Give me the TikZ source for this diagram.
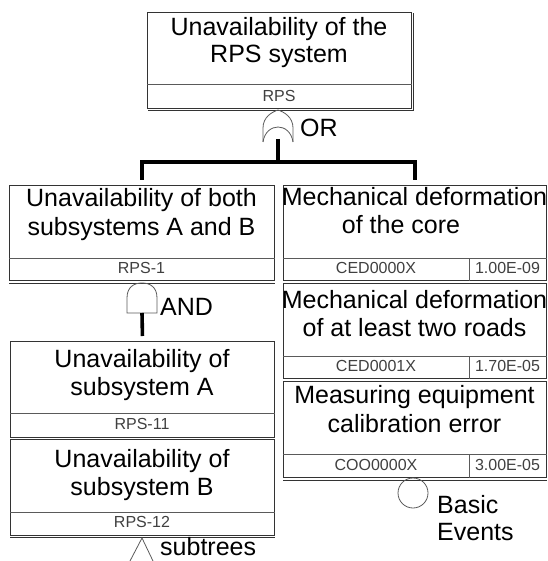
\documentclass[tikz,border=0pt]{standalone}
\usepackage{fontspec}
\setmainfont{Liberation Sans}
\usetikzlibrary{calc}
\definecolor{edgec}{HTML}{333333}
\definecolor{sepc}{HTML}{5A5A5A}
\definecolor{idc}{HTML}{404040}
\tikzset{
  evbox/.style={draw=edgec, line width=0.9pt, inner sep=0pt, anchor=north west, fill=white},
  sepline/.style={draw=sepc, line width=0.7pt},
  shadowline/.style={draw=edgec, line width=0.9pt},
  ttl/.style={anchor=base, inner sep=0pt, font=\fontsize{25}{27}\selectfont, text=black},
  idt/.style={anchor=base, inner sep=0pt, font=\fontsize{16}{18}\selectfont, text=idc},
  lbl/.style={anchor=base west, inner sep=0pt, font=\fontsize{25}{27}\selectfont, text=black},
  conn/.style={line width=3.6pt, black},
  gatel/.style={draw=sepc, line width=0.8pt},
}
\begin{document}
\begin{tikzpicture}[x=1pt,y=-1pt]
\useasboundingbox (0,0) rectangle (547,561);

% ---------- top event ----------
\node[evbox, minimum width=264pt, minimum height=96pt] (b0) at (147,12) {};
\draw[sepline] ($(b0.north west)+(0,72)$) -- ($(b0.north east)+(0,72)$);
\draw[shadowline] ($(b0.south west)+(1,2)$) -- ($(b0.south east)+(1.5,2)$) -- ($(b0.north east)+(1.5,1)$);
\node[ttl] (t0a) at (279,36) {Unavailability of the};
\node[ttl] (t0b) at (279,63) {RPS system};
\node[idt] (i0) at (279,102) {RPS};

% ---------- OR gate ----------
\coordinate (orout) at (278,139);
\coordinate (bar) at (278,162);
\draw[gatel] (263,142) -- (263,128) .. controls (263,117) and (272,112) .. (278,110)
  .. controls (284,112) and (293,117) .. (293,128) -- (293,142);
\draw[gatel] (263,142) .. controls (266,122) and (290,122) .. (293,142);
\node[lbl] (orl) at (300,137) {OR};

% ---------- RPS-1 ----------
\node[evbox, minimum width=265pt, minimum height=95pt] (b1) at (9,185) {};
\draw[sepline] ($(b1.north west)+(0,73)$) -- ($(b1.north east)+(0,73)$);
\draw[shadowline] ($(b1.south west)+(0,2.5)$) -- ($(b1.south east)+(0,2.5)$);
\node[ttl] (t1a) at (141.5,207) {Unavailability of both};
\node[ttl] (t1b) at (141.5,235) {subsystems A and B};
\node[idt] (i1) at (141.5,273) {RPS-1};

% ---------- right basic events ----------
\node[evbox, minimum width=263pt, minimum height=95pt] (e1) at (283,185) {};
\draw[sepline] ($(e1.north west)+(0,73)$) -- ($(e1.north east)+(0,73)$);
\coordinate (d1) at (469,258);
\draw[sepline] (d1) -- (d1 |- e1.south);
\draw[shadowline] ($(e1.south west)+(0,2.5)$) -- ($(e1.south east)+(0,2.5)$);
\node[ttl] (te1a) at (414.5,205) {Mechanical deformation};
\node[ttl] (te1b) at (401,233) {of the core};
\node[idt] (ie1) at (376,273) {CED0000X};
\node[idt] (ve1) at (507.5,273) {1.00E-09};

\node[evbox, minimum width=263pt, minimum height=95pt] (e2) at (283,283) {};
\draw[sepline] ($(e2.north west)+(0,73)$) -- ($(e2.north east)+(0,73)$);
\coordinate (d2) at (469,356);
\draw[sepline] (d2) -- (d2 |- e2.south);
\draw[shadowline] ($(e2.south west)+(0,2.5)$) -- ($(e2.south east)+(0,2.5)$);
\node[ttl] (te2a) at (414.5,308) {Mechanical deformation};
\node[ttl] (te2b) at (414.5,336) {of at least two roads};
\node[idt] (ie2) at (376,371) {CED0001X};
\node[idt] (ve2) at (507.5,371) {1.70E-05};

\node[evbox, minimum width=263pt, minimum height=96pt] (e3) at (283,381) {};
\draw[sepline] ($(e3.north west)+(0,73)$) -- ($(e3.north east)+(0,73)$);
\coordinate (d3) at (469,454);
\draw[sepline] (d3) -- (d3 |- e3.south);
\draw[shadowline] ($(e3.south west)+(0,2.5)$) -- ($(e3.south east)+(0,2.5)$);
\node[ttl] (te3a) at (414.5,403) {Measuring equipment};
\node[ttl] (te3b) at (414.5,432) {calibration error};
\node[idt] (ie3) at (376,470) {COO0000X};
\node[idt] (ve3) at (507.5,470) {3.00E-05};

% ---------- OR connectors ----------
\draw[conn] (orout) -- (bar);
\draw[conn, line join=miter] ($(b1.north)+(0,-5)$) |- (bar) -| ($(e1.north)+(0,-5)$);

% ---------- AND gate ----------
\coordinate (andout) at (142,313);
\draw[gatel] (127,313) -- (127,298) .. controls (127,287) and (134,283) .. (142,283)
  .. controls (150,283) and (157,287) .. (157,298) -- (157,313) -- cycle;
\node[lbl] (andl) at (160,315) {AND};

% ---------- RPS-11 ----------
\node[evbox, minimum width=264pt, minimum height=96pt] (b11) at (10,341) {};
\draw[sepline] ($(b11.north west)+(0,72)$) -- ($(b11.north east)+(0,72)$);
\draw[shadowline] ($(b11.south west)+(0,2)$) -- ($(b11.south east)+(0,2)$);
\node[ttl] (t11a) at (142,367) {Unavailability of};
\node[ttl] (t11b) at (142,395) {subsystem A};
\node[idt] (i11) at (142,429) {RPS-11};

% ---------- RPS-12 ----------
\node[evbox, minimum width=264pt, minimum height=96pt] (b12) at (10,439) {};
\draw[sepline] ($(b12.north west)+(0,73)$) -- ($(b12.north east)+(0,73)$);
\draw[shadowline] ($(b12.south west)+(0,2)$) -- ($(b12.south east)+(0,2)$);
\node[ttl] (t12a) at (142,467) {Unavailability of};
\node[ttl] (t12b) at (142,495) {subsystem B};
\node[idt] (i12) at (142,527) {RPS-12};

\draw[conn] (andout) -- ($(b11.north)+(0,-5)$);

% ---------- subtrees ----------
\coordinate (subtop) at (142,538);
\draw[gatel] (130,561) -- (subtop) -- (153,561);
\node[lbl] (subl) at (160,555) {subtrees};

% ---------- basic events legend ----------
\node[draw=sepc, line width=0.8pt, circle, minimum size=30pt, inner sep=0pt] (bec) at (413,493) {};
\node[lbl] (bel1) at (437,513) {Basic};
\node[lbl] (bel2) at (437,540) {Events};
\end{tikzpicture}
\end{document}
